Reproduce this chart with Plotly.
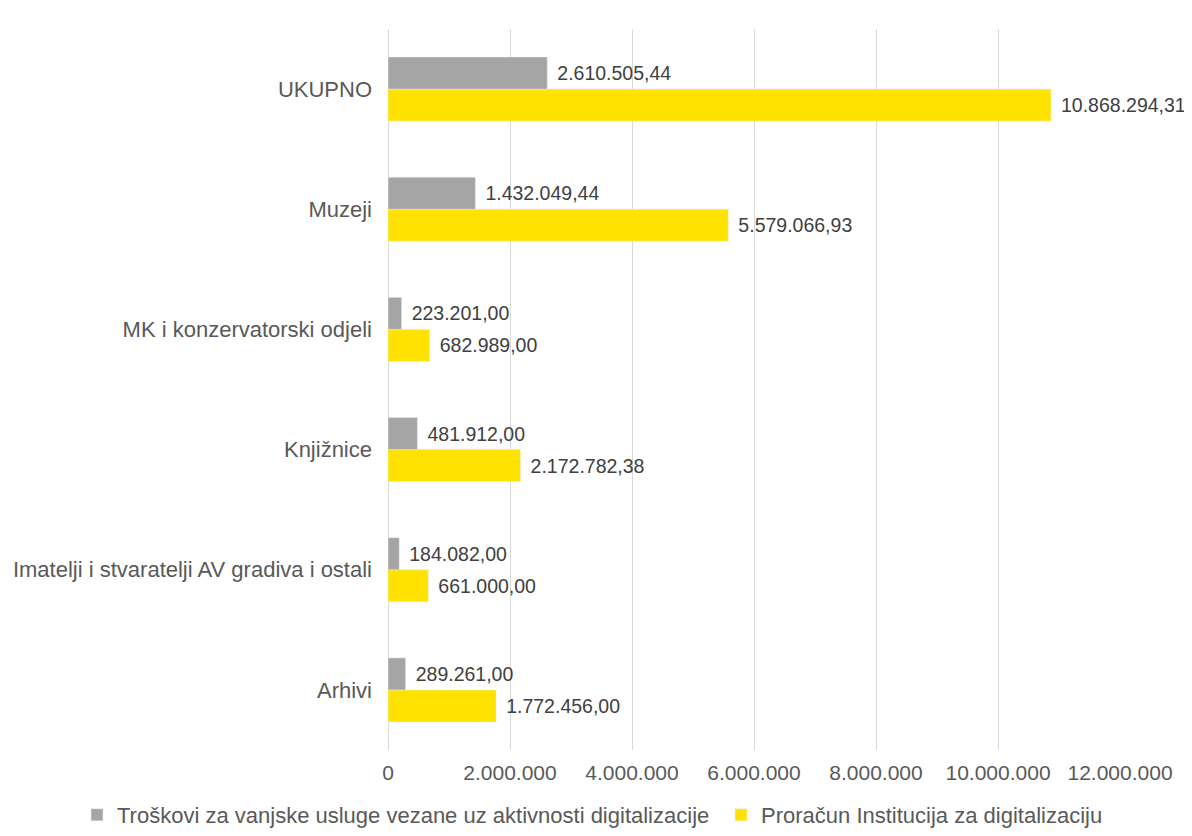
import plotly.graph_objects as go

categories = ["Arhivi", "Imatelji i stvaratelji AV gradiva i ostali", "Knjižnice",
              "MK i konzervatorski odjeli", "Muzeji", "UKUPNO"]
troskovi = [289261.00, 184082.00, 481912.00, 223201.00, 1432049.44, 2610505.44]
proracun = [1772456.00, 661000.00, 2172782.38, 682989.00, 5579066.93, 10868294.31]
tick_vals = [0, 2000000, 4000000, 6000000, 8000000, 10000000, 12000000]
tick_text = ["0", "2.000.000", "4.000.000", "6.000.000", "8.000.000", "10.000.000", "12.000.000"]

name_t = "Troškovi za vanjske usluge vezane uz aktivnosti digitalizacije"
name_p = "Proračun Institucija za digitalizaciju"


def fmt(v):
    s = f"{v:,.2f}"
    return s.replace(",", "X").replace(".", ",").replace("X", ".")


FONT = "Liberation Sans, Arial, sans-serif"
W, H = 1184, 828  # page has an 8px body margin

fig = go.Figure()
fig.add_trace(go.Bar(
    y=categories, x=proracun, orientation="h", name=name_p,
    marker_color="#FFE200", text=[" \u200a" + fmt(v) for v in proracun],
    textposition="outside", cliponaxis=False, legend="legend2",
    textfont=dict(size=19.5, color="#404040", family=FONT),
))
fig.add_trace(go.Bar(
    y=categories, x=troskovi, orientation="h", name=name_t,
    marker_color="#A5A5A5", text=[" \u200a" + fmt(v) for v in troskovi],
    textposition="outside", cliponaxis=False, legend="legend",
    textfont=dict(size=19.5, color="#404040", family=FONT),
))

legend_common = dict(orientation="h", xanchor="left", xref="container",
                     yanchor="middle", yref="container", y=1 - 807 / H,
                     font=dict(size=22, color="#595959", family=FONT),
                     bgcolor="rgba(0,0,0,0)")

fig.update_layout(
    width=W, height=H,
    barmode="group", bargap=0.467, bargroupgap=0,
    plot_bgcolor="white", paper_bgcolor="white",
    margin=dict(l=380, r=72, t=21, b=86, autoexpand=False),
    font=dict(family=FONT, color="#595959", size=21),
    showlegend=True,
    legend=dict(x=69 / W, **legend_common),
    legend2=dict(x=713 / W, **legend_common),
)
fig.update_xaxes(range=[0, 12000000], tickvals=tick_vals, ticktext=tick_text,
                 showgrid=True, gridcolor="#D9D9D9", gridwidth=1,
                 zeroline=True, zerolinecolor="#D9D9D9", zerolinewidth=1,
                 tickfont=dict(size=21, color="#595959", family=FONT),
                 ticks="", showline=False, automargin=False, ticklabelstandoff=8)
fig.update_yaxes(tickfont=dict(size=22, color="#595959", family=FONT),
                 ticks="", showline=False, automargin=False, ticklabelstandoff=15)

fig.write_html("out.html")
